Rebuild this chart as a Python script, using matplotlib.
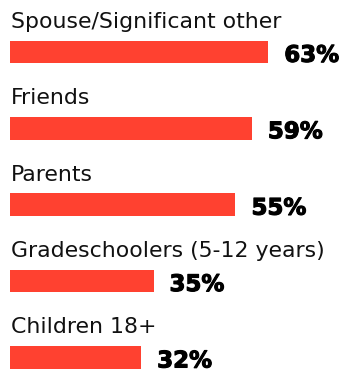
import matplotlib.pyplot as plt
import matplotlib.patheffects as pe

# Share of respondents for each group
groups = ['Spouse/Significant other', 'Friends', 'Parents',
          'Gradeschoolers (5-12 years)', 'Children 18+']
shares = [63, 59, 55, 35, 32]

bar_color = '#ff4130'

fig = plt.figure(figsize=(3.45, 3.69), dpi=100)
ax = fig.add_axes([0, 0, 1, 1])

pos = list(range(len(groups)))
ax.barh(pos, shares, height=0.295, color=bar_color, left=0)

for i, (name, val) in enumerate(zip(groups, shares)):
    # group name sits above its bar, percentage to the right
    ax.text(0.25, i - 0.317, name, ha='left', va='baseline',
            fontsize=15.8, color='#111111')
    ax.text(val + 3.9, i + 0.13, f'{val}%', ha='left', va='baseline',
            fontsize=16.5, fontweight='bold', color='#000000',
            path_effects=[pe.withStroke(linewidth=0.8, foreground='#000000')])

ax.set_xlim(-10 / 4.1, 335 / 4.1)
ax.set_ylim(4.15, -0.68)
ax.axis('off')

fig.savefig('out.png', dpi=100)
